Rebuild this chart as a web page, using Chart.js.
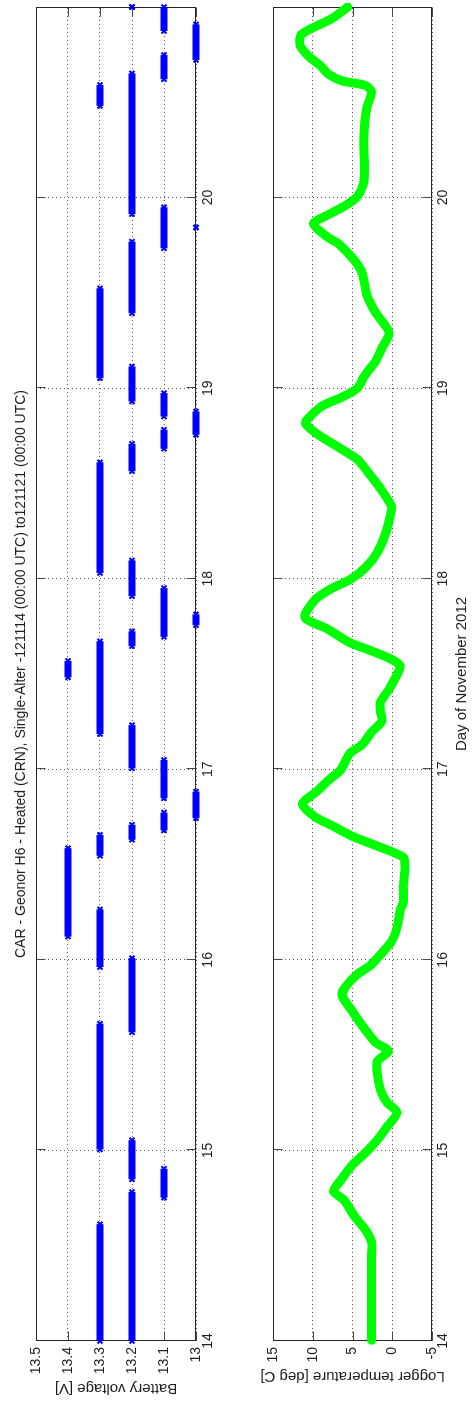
<!DOCTYPE html>
<html>
<head>
<meta charset="utf-8">
<title>CAR - Geonor H6 - Heated (CRN)</title>
<script src="https://cdn.jsdelivr.net/npm/chart.js@4.4.1/dist/chart.umd.min.js"></script>
<style>
  html, body { margin: 0; padding: 0; background: #fff; overflow: hidden; }
  body { width: 475px; height: 1406px; position: relative; }
  /* the figure is laid out landscape and turned a quarter turn to portrait */
  #page {
    position: absolute; left: 0; top: 0;
    width: 1406px; height: 475px;
    transform-origin: 0 0;
    transform: translate(0, 1406px) rotate(-90deg);
    background: #fff;
  }
  #voltBox { position: absolute; left: 0; top: 0; width: 1406px; height: 232px; }
  #tempBox { position: absolute; left: 0; top: 232px; width: 1406px; height: 243px; }
</style>
</head>
<body>
<div id="page">
  <div id="voltBox"><canvas id="voltChart" width="1406" height="232"></canvas></div>
  <div id="tempBox"><canvas id="tempChart" width="1406" height="243"></canvas></div>
</div>
<script>
// Station battery voltage, logged in 0.1 V steps: runs of constant reading
const voltRunStart = [14.000, 14.000, 14.752, 14.848, 15.005, 15.620, 15.962, 16.122, 16.546, 16.630,
                      16.679, 16.743, 16.848, 17.005, 17.185, 17.482, 17.646, 17.695, 17.756, 17.908,
                      18.030, 18.564, 18.682, 18.755, 18.851, 18.930, 19.052, 19.393, 19.734, 19.843,
                      19.913, 20.481, 20.621, 20.722, 20.874, 21.000];
const voltRunEnd   = [14.613, 14.782, 14.904, 15.054, 15.665, 16.009, 16.265, 16.586, 16.656, 16.709,
                      16.773, 16.883, 17.049, 17.232, 17.672, 17.569, 17.724, 17.951, 17.813, 18.096,
                      18.611, 18.708, 18.782, 18.878, 18.974, 19.114, 19.524, 19.769, 19.949, 19.843,
                      20.652, 20.591, 20.748, 20.909, 21.000, 21.000];
const voltRunLevel = [13.3, 13.2, 13.1, 13.2, 13.3, 13.2, 13.3, 13.4, 13.3, 13.2,
                      13.1, 13.0, 13.1, 13.2, 13.3, 13.4, 13.2, 13.1, 13.0, 13.2,
                      13.3, 13.2, 13.1, 13.0, 13.1, 13.2, 13.3, 13.2, 13.1, 13.0,
                      13.2, 13.3, 13.1, 13.0, 13.1, 13.2];

// Logger temperature [deg C] by day of November 2012
const tempDays = [14.004, 14.451, 14.518, 14.585, 14.652, 14.741, 14.786, 14.853, 14.920, 14.987,
                  15.054, 15.121, 15.199, 15.254, 15.321, 15.411, 15.467, 15.522, 15.567, 15.634,
                  15.723, 15.813, 15.857, 15.924, 15.969, 16.036, 16.103, 16.170, 16.259, 16.304,
                  16.393, 16.482, 16.538, 16.594, 16.650, 16.705, 16.750, 16.817, 16.884, 16.951,
                  16.996, 17.085, 17.129, 17.196, 17.252, 17.308, 17.353, 17.420, 17.540, 17.575,
                  17.621, 17.668, 17.738, 17.797, 17.890, 17.949, 18.000, 18.065, 18.136, 18.229,
                  18.322, 18.380, 18.486, 18.556, 18.626, 18.696, 18.755, 18.813, 18.836, 18.907,
                  18.953, 19.000, 19.070, 19.140, 19.210, 19.292, 19.397, 19.491, 19.607, 19.678,
                  19.759, 19.794, 19.864, 19.911, 19.958, 20.005, 20.075, 20.168, 20.285, 20.379,
                  20.472, 20.554, 20.589, 20.612, 20.647, 20.694, 20.741, 20.799, 20.857, 20.939,
                  21.000];
const tempValues = [2.6, 2.6, 2.6, 3.4, 4.7, 6.1, 7.4, 6.3, 5.1, 3.4,
                    1.9, 0.7, -0.6, 0.7, 1.5, 1.9, 1.9, 0.5, 2.1, 3.4,
                    4.9, 6.3, 5.9, 4.4, 2.8, 1.3, 0.0, -0.6, -1.0, -1.4,
                    -1.4, -1.6, -1.4, 1.7, 5.1, 7.6, 9.7, 11.3, 9.5, 7.8,
                    6.5, 5.3, 3.8, 2.6, 1.3, 1.5, 1.5, 0.4, -1.0, 0.0,
                    2.6, 5.5, 8.2, 11.0, 9.7, 7.6, 5.1, 3.2, 1.9, 0.9,
                    0.3, 0.1, 1.7, 3.0, 4.4, 7.0, 9.3, 10.9, 10.7, 8.8,
                    6.3, 4.4, 3.4, 2.1, 1.3, 0.4, 2.1, 3.2, 3.8, 4.9,
                    6.8, 8.2, 9.9, 8.0, 5.9, 4.4, 3.6, 3.5, 3.6, 3.5,
                    3.2, 2.6, 3.4, 6.3, 8.0, 9.1, 10.5, 11.6, 11.4, 7.6,
                    5.6];

// Axis ticks
const dayTicks  = [14, 15, 16, 17, 18, 19, 20];
const voltTicks = [13, 13.1, 13.2, 13.3, 13.4, 13.5];
const tempTicks = [-5, 0, 5, 10, 15];

const titleText = 'CAR - Geonor H6 - Heated (CRN), Single-Alter -121114 (00:00 UTC) to121121 (00:00 UTC)';

const FONT = "'Liberation Sans', Arial, Helvetica, sans-serif";
const NARROW = "'Liberation Sans Narrow', 'Arial Narrow', 'Liberation Sans', Arial, sans-serif";
const TEXT = '#1e1e1e';
const tickFont  = { family: NARROW, size: 14, lineHeight: 1.2 };
const labelFont = { family: FONT, size: 15, lineHeight: 1.2 };
const titleFont = { family: FONT, size: 14, lineHeight: 1.2, weight: 'normal' };

// runs become line pieces separated by gaps
const voltPoints = [];
voltRunStart.forEach((s, i) => {
  voltPoints.push({ x: s, y: voltRunLevel[i] });
  voltPoints.push({ x: voltRunEnd[i], y: voltRunLevel[i] });
  voltPoints.push({ x: voltRunEnd[i], y: null });
});
const tempPoints = tempDays.map((d, i) => ({ x: d, y: tempValues[i] }));

// boxed axes with inward tick marks on all four sides
const boxFrame = {
  id: 'boxFrame',
  beforeDatasetsDraw(chart) {
    const { ctx, chartArea: a, scales: { x, y } } = chart;
    const L = Math.round(a.left) + 0.5, R = Math.round(a.right) - 0.5;
    const T = Math.round(a.top) + 0.5, B = Math.round(a.bottom) - 0.5;
    const len = 9;
    ctx.save();
    ctx.lineWidth = 1;
    ctx.strokeStyle = '#4a4a4a';
    ctx.beginPath();
    x.ticks.forEach(t => {
      const px = Math.round(x.getPixelForValue(t.value)) + 0.5;
      ctx.moveTo(px, T); ctx.lineTo(px, T + len);
      ctx.moveTo(px, B); ctx.lineTo(px, B - len);
    });
    y.ticks.forEach(t => {
      const py = Math.round(y.getPixelForValue(t.value)) + 0.5;
      ctx.moveTo(L, py); ctx.lineTo(L + len, py);
      ctx.moveTo(R, py); ctx.lineTo(R - len, py);
    });
    ctx.stroke();
    ctx.strokeStyle = '#262626';
    ctx.strokeRect(L, T, R - L, B - T);
    ctx.restore();
  }
};

// keep the title centred over the plot area rather than the whole canvas
const titleOverAxes = {
  id: 'titleOverAxes',
  afterLayout(chart) {
    const t = chart.titleBlock;
    if (t) { t.left = chart.chartArea.left; t.right = chart.chartArea.right; }
  }
};

function dayAxis(height, tickPad, withTitle) {
  return {
    type: 'linear', min: 14, max: 21,
    afterBuildTicks: s => { s.ticks = dayTicks.map(v => ({ value: v })); },
    afterFit: s => { s.height = height; },
    grid: { color: '#555', lineWidth: 1, drawTicks: false },
    border: { display: false, dash: [1, 3] },
    ticks: { padding: tickPad, font: tickFont, color: TEXT, maxRotation: 0, autoSkip: false,
             callback: v => String(v) },
    title: withTitle
      ? { display: true, text: 'Day of November 2012', font: labelFont, color: TEXT, padding: { top: 0, bottom: 4 } }
      : { display: false }
  };
}

function valueAxis(min, max, tickList, label, titlePad) {
  return {
    type: 'linear', min: min, max: max,
    afterBuildTicks: s => { s.ticks = tickList.map(v => ({ value: v })); },
    afterFit: s => { s.width = 65; },
    grid: { color: '#555', lineWidth: 1, drawTicks: false },
    border: { display: false, dash: [1, 3] },
    ticks: { padding: 6, font: tickFont, color: TEXT, autoSkip: false, callback: v => String(v) },
    title: { display: true, text: label, font: labelFont, color: TEXT, padding: { top: titlePad, bottom: 0 } }
  };
}

const common = {
  responsive: false,
  animation: false,
  devicePixelRatio: 1,
  events: []
};

new Chart(document.getElementById('voltChart'), {
  type: 'scatter',
  data: {
    datasets: [{
      label: 'Battery voltage',
      data: voltPoints,
      showLine: true,
      spanGaps: false,
      borderColor: '#0000ff',
      borderWidth: 7,
      borderCapStyle: 'butt',
      pointStyle: 'crossRot',
      pointRadius: 3.5,
      pointBorderWidth: 2,
      pointBorderColor: '#0000ff',
      pointBackgroundColor: '#0000ff',
      clip: false
    }]
  },
  options: Object.assign({}, common, {
    layout: { padding: { left: 0, right: 7, top: 0, bottom: 0 } },
    plugins: {
      legend: { display: false },
      tooltip: { enabled: false },
      title: { display: true, text: titleText, font: titleFont, color: TEXT, padding: { top: 12.6, bottom: 6.6 } }
    },
    scales: {
      x: dayAxis(36, 3.5, false),
      y: valueAxis(13, 13.5, voltTicks, 'Battery voltage [V]', 8.7)
    }
  }),
  plugins: [boxFrame, titleOverAxes]
});

new Chart(document.getElementById('tempChart'), {
  type: 'scatter',
  data: {
    datasets: [{
      label: 'Logger temperature',
      data: tempPoints,
      showLine: true,
      borderColor: '#00ff00',
      borderWidth: 9,
      borderJoinStyle: 'round',
      borderCapStyle: 'round',
      tension: 0.25,
      pointRadius: 0,
      clip: 4
    }]
  },
  options: Object.assign({}, common, {
    layout: { padding: { left: 0, right: 7, top: 41, bottom: 0 } },
    plugins: { legend: { display: false }, tooltip: { enabled: false }, title: { display: false } },
    scales: {
      x: dayAxis(43, 3, true),
      y: valueAxis(-5, 15, tempTicks, 'Logger temperature [deg C]', 21.2)
    }
  }),
  plugins: [boxFrame]
});
</script>
</body>
</html>
